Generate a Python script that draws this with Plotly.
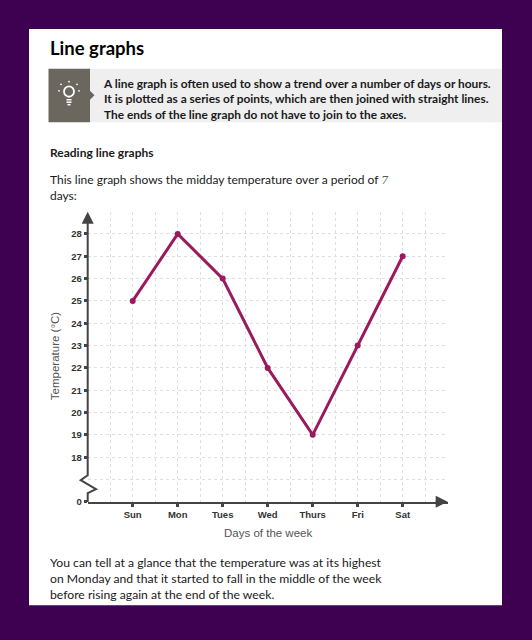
import plotly.graph_objects as go

# data
days = ["Sun", "Mon", "Tues", "Wed", "Thurs", "Fri", "Sat"]
temps = [25, 28, 26, 22, 19, 23, 27]
y_ticks = [16, 18, 19, 20, 21, 22, 23, 24, 25, 26, 27, 28]
y_tick_labels = ["0", "18", "19", "20", "21", "22", "23", "24", "25", "26", "27", "28"]
y_grid = list(range(17, 29))
x_grid = [i / 2 for i in range(-1, 14)]

W, H = 532, 640
PURPLE = "#3e0050"
LINE = "#9b1a5e"
AXIS = "#444444"
TXT = "#1a1a1a"
BODY_FONT = "Lato"
CHART_FONT = "Liberation Sans"


def px(x):
    return x / W


def py(y):
    return 1 - y / H


def note(text, x, y, **kw):
    d = dict(text=text, x=px(x), y=py(y), xref="paper", yref="paper", showarrow=False)
    d.update(kw)
    return d


fig = go.Figure()

fig.add_trace(go.Scatter(
    x=list(range(len(days))),
    y=temps,
    mode="lines+markers",
    line=dict(color=LINE, width=3),
    marker=dict(color=LINE, size=6),
    hoverinfo="skip",
    showlegend=False,
))

# y axis with the break zigzag (pixel positions)
ax_x = 87.7
zig = [(ax_x, 506), (ax_x, 497), (96, 493), (80.7, 484), (ax_x, 479), (ax_x, 222)]
zig_path = "M " + " L ".join(f"{px(a)},{py(b)}" for a, b in zig)

shapes = [
    # white card
    dict(type="rect", xref="paper", yref="paper", x0=px(29), x1=px(502), y0=py(610), y1=py(29.3),
         fillcolor="white", line=dict(width=0), layer="below"),
    # info box
    dict(type="rect", xref="paper", yref="paper", x0=px(90), x1=px(502), y0=py(123.3), y1=py(69.3),
         fillcolor="#efefef", line=dict(width=0), layer="below"),
    dict(type="rect", xref="paper", yref="paper", x0=px(48.5), x1=px(90), y0=py(123.3), y1=py(69.3),
         fillcolor="#6b675f", line=dict(width=0), layer="below"),
    dict(type="path", xref="paper", yref="paper",
         path=f"M {px(90)},{py(91.5)} L {px(94.5)},{py(96)} L {px(90)},{py(100.5)} Z",
         fillcolor="#6b675f", line=dict(width=0), layer="below"),
    # bulb
    dict(type="circle", xref="paper", yref="paper", x0=px(64), x1=px(74), y0=py(97.5), y1=py(87),
         line=dict(color="white", width=1.8)),
    dict(type="line", xref="paper", yref="paper", x0=px(66.5), x1=px(71.5), y0=py(100.5), y1=py(100.5),
         line=dict(color="white", width=1.5)),
    dict(type="line", xref="paper", yref="paper", x0=px(66.5), x1=px(71.5), y0=py(103), y1=py(103),
         line=dict(color="white", width=1.5)),
    dict(type="line", xref="paper", yref="paper", x0=px(67.5), x1=px(70.5), y0=py(105.5), y1=py(105.5),
         line=dict(color="white", width=1.5)),
    dict(type="path", xref="paper", yref="paper", path=zig_path, line=dict(color=AXIS, width=2)),
]
for dx, dy in [(69, 82.3), (61, 85), (77, 85), (59, 91.5), (79, 91.5)]:
    shapes.append(dict(type="circle", xref="paper", yref="paper",
                       x0=px(dx - 0.9), x1=px(dx + 0.9), y0=py(dy + 0.9), y1=py(dy - 0.9),
                       fillcolor="white", line=dict(width=0)))

annotations = [
    note("<b>Line graphs</b>", 48, 48, xanchor="left", yanchor="middle",
         font=dict(family=BODY_FONT, size=18.5, color="black")),
    note("<b>A line graph is often used to show a trend over a number of days or hours.<br>"
         "It is plotted as a series of points, which are then joined with straight lines.<br>"
         "The ends of the line graph do not have to join to the axes.</b>",
         101, 74.5, xanchor="left", yanchor="top", align="left",
         font=dict(family=BODY_FONT, size=11.9, color=TXT)),
    note("<b>Reading line graphs</b>", 48, 153.5, xanchor="left", yanchor="middle",
         font=dict(family=BODY_FONT, size=12, color=TXT)),
    note("This line graph shows the midday temperature over a period of "
         "<span style='font-family:DejaVu Serif;color:#555;font-size:11px'><i>7</i></span><br>days:",
         48, 171, xanchor="left", yanchor="top", align="left",
         font=dict(family=BODY_FONT, size=12, color=TXT)),
    note("You can tell at a glance that the temperature was at its highest<br>"
         "on Monday and that it started to fall in the middle of the week<br>"
         "before rising again at the end of the week.",
         48, 557.5, xanchor="left", yanchor="top", align="left",
         font=dict(family=BODY_FONT, size=12.2, color=TXT)),
    note("Temperature (°C)", 55, 359, textangle=-90, xanchor="center", yanchor="middle",
         font=dict(family=CHART_FONT, size=11.5, color="#555555")),
    note("Days of the week", 268, 537.5, xanchor="center", yanchor="middle",
         font=dict(family=CHART_FONT, size=11.5, color="#555555")),
    # axis arrowheads
    dict(x=-1, y=29, ax=-1, ay=28.6, xref="x", yref="y", axref="x", ayref="y", text="",
         showarrow=True, arrowhead=2, arrowsize=1.2, arrowwidth=2, arrowcolor=AXIS),
    dict(x=7, y=16, ax=6.7, ay=16, xref="x", yref="y", axref="x", ayref="y", text="",
         showarrow=True, arrowhead=2, arrowsize=1.2, arrowwidth=2, arrowcolor=AXIS),
]

grid_style = dict(showgrid=True, gridcolor="#dcdfe8", griddash="dot", gridwidth=1)

fig.update_layout(
    width=W, height=H,
    margin=dict(l=0, r=0, t=0, b=0),
    paper_bgcolor=PURPLE,
    plot_bgcolor="rgba(0,0,0,0)",
    shapes=shapes,
    annotations=annotations,
    xaxis=dict(
        domain=[px(87.7), px(447.7)],
        range=[-1, 7],
        tickvals=list(range(len(days))),
        ticktext=[f"<b>{d}</b>" for d in days],
        ticks="outside", ticklen=3, tickwidth=3, tickcolor=AXIS,
        tickfont=dict(family=CHART_FONT, size=9.5, color="#333333"),
        showgrid=False, zeroline=False,
        showline=True, linecolor=AXIS, linewidth=2,
        minor=dict(tickvals=x_grid, **grid_style),
        fixedrange=True,
    ),
    yaxis=dict(
        domain=[py(505.8), py(213.3)],
        range=[16, 29],
        tickvals=y_ticks,
        ticktext=[f"<b>{t}</b>" for t in y_tick_labels],
        ticks="outside", ticklen=3, tickwidth=3, tickcolor=AXIS,
        tickfont=dict(family=CHART_FONT, size=9.5, color="#333333"),
        showgrid=False, zeroline=False, showline=False,
        minor=dict(tickvals=y_grid, **grid_style),
        fixedrange=True,
    ),
)

fig.write_html("out.html", config={"displayModeBar": False},
               post_script="document.body.style.margin='0';document.body.style.overflow='hidden';")
